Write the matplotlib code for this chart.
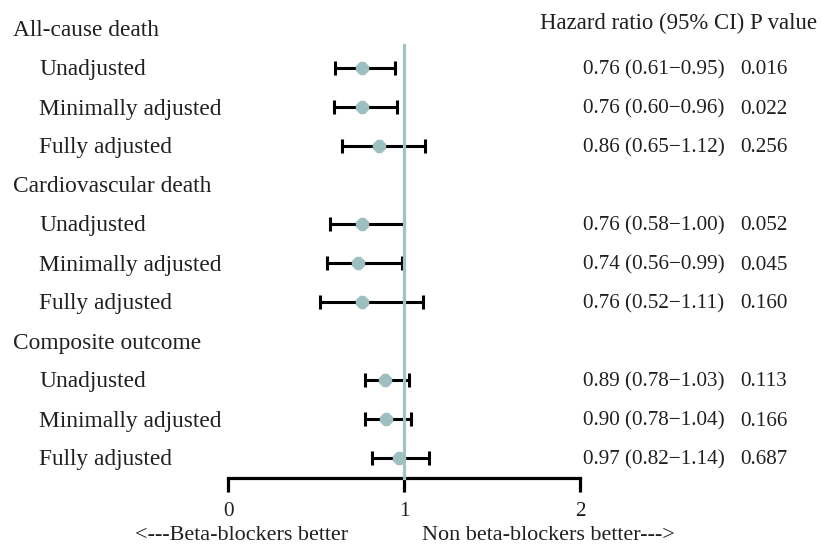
import numpy as np
import matplotlib.pyplot as plt

plt.rcParams['font.family'] = ['Liberation Serif', 'DejaVu Serif']

groups = ["All-cause death", "Cardiovascular death", "Composite outcome"]
models = ["Unadjusted", "Minimally adjusted", "Fully adjusted"]
hr = [0.76, 0.76, 0.86, 0.76, 0.74, 0.76, 0.89, 0.90, 0.97]
lo = [0.61, 0.60, 0.65, 0.58, 0.56, 0.52, 0.78, 0.78, 0.82]
hi = [0.95, 0.96, 1.12, 1.00, 0.99, 1.11, 1.03, 1.04, 1.14]
pvals = ["0.016", "0.022", "0.256", "0.052", "0.045", "0.160", "0.113", "0.166", "0.687"]
xticks = [0, 1, 2]

W, H = 823, 544
fig = plt.figure(figsize=(W / 100, H / 100), dpi=100)
ax = fig.add_axes([0, 0, 1, 1])
px = 176.0  # pixels per unit on the x axis
x0 = 228


def X(p):
    # pixel column -> data x
    return (p - x0) / px


ax.set_xlim(X(0), X(W))
ax.set_ylim(H, 0)

tcol = "#231f20"
fs_lab = 16.8
fs_num = 15.2
row_step = 39
y_first = 29
axis_y = 478
mcol = "#9dbfc0"
dy = 2  # text sits slightly lower than the bars' centre line

for g, name in enumerate(groups):
    yh = y_first + row_step * (4 * g)
    ax.text(X(13), yh + dy, name, fontsize=fs_lab, va="center", ha="left", color=tcol)
    for m, mname in enumerate(models):
        k = 3 * g + m
        y = yh + row_step * (m + 1)
        ax.text(X(39), y + dy, mname, fontsize=fs_lab, va="center", ha="left", color=tcol)
        ax.errorbar(hr[k], y, xerr=[[hr[k] - lo[k]], [hi[k] - hr[k]]], fmt="none",
                    ecolor="black", elinewidth=2.2, capsize=4.8, capthick=2.2, zorder=2)
        ax.plot(hr[k], y, marker="8", markersize=9, color=mcol, mec=mcol, zorder=4)
        ax.text(X(583), y + dy, f"{hr[k]:.2f} ({lo[k]:.2f}\u2212{hi[k]:.2f})",
                fontsize=fs_num, va="center", ha="left", color=tcol)
        ax.text(X(740), y + dy, pvals[k], fontsize=fs_num, va="center", ha="left", color=tcol)

ax.text(X(540), 23, "Hazard ratio (95% CI) P value", fontsize=16.4,
        va="center", ha="left", color=tcol)

ax.plot([1, 1], [45, axis_y], color="#a3c2c3", lw=2.3, zorder=3)

for s in ["top", "left", "right"]:
    ax.spines[s].set_visible(False)
ax.spines["bottom"].set_position(("data", axis_y))
ax.spines["bottom"].set_bounds(0, 2)
ax.spines["bottom"].set_linewidth(2.3)
ax.set_xticks(xticks)
ax.set_xticklabels([str(t) for t in xticks], fontsize=fs_num, color=tcol)
ax.tick_params(axis="x", direction="out", length=10, width=2.3, pad=7)
ax.set_yticks([])

ax.text(X(135), 536, "<---Beta-blockers better", fontsize=15.9, va="center",
        ha="left", color=tcol)
ax.text(X(422), 536, "Non beta-blockers better--->", fontsize=15.9, va="center",
        ha="left", color=tcol)

fig.savefig("out.png", dpi=100)
